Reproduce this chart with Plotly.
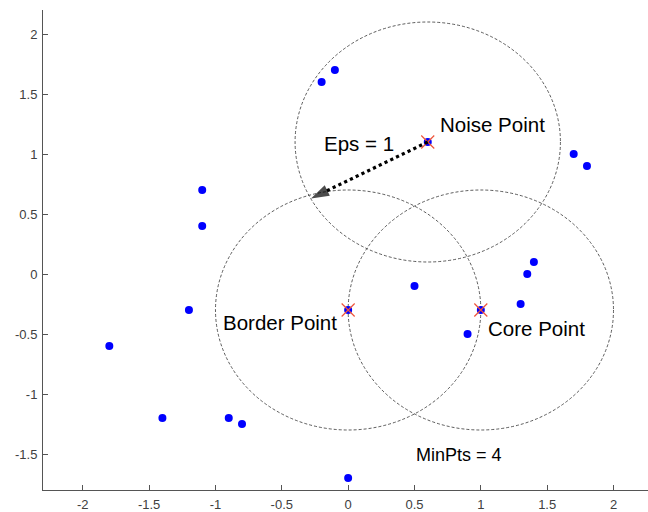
import plotly.graph_objects as go

# Data points
pts_x = [-0.2, -0.1, 0.6, 1.7, 1.8, -1.1, -1.1, -1.2, -1.8, -1.4, -0.9, -0.8, 0.0, 0.0, 0.5, 1.0, 0.9, 1.3, 1.35, 1.4]
pts_y = [1.6, 1.7, 1.1, 1.0, 0.9, 0.7, 0.4, -0.3, -0.6, -1.2, -1.2, -1.25, -1.7, -0.3, -0.1, -0.3, -0.5, -0.25, 0.0, 0.1]

# Highlighted points (noise, border, core) = circle centres
hl_x = [0.6, 0.0, 1.0]
hl_y = [1.1, -0.3, -0.3]
eps = 1.0

# Eps arrow
arrow_x = [0.6, -0.28]
arrow_y = [1.1, 0.63]

# Labels
label_text = ["Noise Point", "Eps = 1", "Border Point", "Core Point", "MinPts = 4"]
label_x = [0.675, -0.2, -0.955, 1.04, 0.496]
label_y = [1.25, 1.085, -0.405, -0.455, -1.505]
label_size = [20.5, 20.5, 20.5, 20.5, 18]

x_ticks = [-2, -1.5, -1, -0.5, 0, 0.5, 1, 1.5, 2]
y_ticks = [-1.5, -1, -0.5, 0, 0.5, 1, 1.5, 2]

fig = go.Figure()

# circles
for cx, cy in zip(hl_x, hl_y):
    fig.add_shape(type="circle", xref="x", yref="y",
                  x0=cx - eps, x1=cx + eps, y0=cy - eps, y1=cy + eps,
                  line=dict(color="#333333", width=0.8, dash="3px,2px"), layer="below")

fig.add_trace(go.Scatter(x=pts_x, y=pts_y, mode="markers",
                         marker=dict(color="#0000ff", size=8, line=dict(width=0)),
                         showlegend=False, hoverinfo="skip"))

fig.add_trace(go.Scatter(x=hl_x, y=hl_y, mode="markers",
                         marker=dict(symbol="x-thin-open", size=13,
                                     line=dict(color="rgba(255,40,40,0.65)", width=1.2)),
                         showlegend=False, hoverinfo="skip"))

fig.add_trace(go.Scatter(x=arrow_x, y=arrow_y, mode="lines+markers",
                         line=dict(color="black", width=3.2, dash="dot"),
                         marker=dict(symbol=["circle", "arrow"], size=[3, 19], color="black",
                                     angleref="previous", line=dict(width=0)),
                         showlegend=False, hoverinfo="skip"))

for t, x, y, s in zip(label_text, label_x, label_y, label_size):
    fig.add_annotation(x=x, y=y, text=t, showarrow=False, xanchor="left", yanchor="middle",
                       font=dict(family="Liberation Sans, Arial", size=s, color="black"))

axis_common = dict(showgrid=False, zeroline=False, showline=True, linecolor="#555555", linewidth=1,
                   ticks="inside", ticklen=5, tickcolor="#555555", tickwidth=1,
                   tickfont=dict(family="Liberation Sans, Arial", size=13, color="#404040"),
                   mirror=False, automargin=False)

fig.update_layout(
    width=648, height=512,
    margin=dict(l=43, r=0, t=10, b=22),
    plot_bgcolor="white", paper_bgcolor="white",
    xaxis=dict(range=[-2.3, 2.26], tickvals=x_ticks, ticktext=[f"{v:g}" for v in x_ticks],
               ticklabelstandoff=2, **axis_common),
    yaxis=dict(range=[-1.8, 2.2], tickvals=y_ticks, ticktext=[f"{v:g}" for v in y_ticks],
               ticklabelstandoff=2, **axis_common),
)

fig.write_html("out.html", config={"displayModeBar": False})
